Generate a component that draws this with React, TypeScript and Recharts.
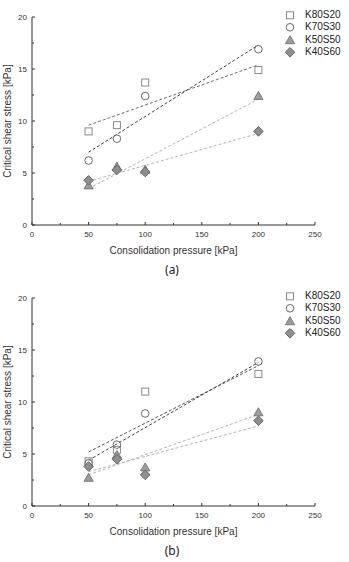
import React from 'react';
import { ScatterChart, Scatter, XAxis, YAxis, Legend } from 'recharts';

// Consolidation pressures tested [kPa]
const PRESSURE = [50, 75, 100, 200];
// Pressures where the linear trend lines start and end
const FIT_PRESSURE = [50, 200];

const SERIES_NAMES = ['K80S20', 'K70S30', 'K50S50', 'K40S60'];

const X_TICKS = [0, 25, 50, 75, 100, 125, 150, 175, 200, 225, 250];
const Y_TICKS = [0, 2.5, 5, 7.5, 10, 12.5, 15, 17.5, 20];

// Panel (a): critical shear stress [kPa]
const A_K80S20 = [9.0, 9.6, 13.7, 14.9];
const A_K70S30 = [6.2, 8.3, 12.4, 16.9];
const A_K50S50 = [3.8, 5.6, 5.3, 12.4];
const A_K40S60 = [4.3, 5.3, 5.1, 9.0];
// Panel (a): trend line values at 50 and 200 kPa
const A_FIT_K80S20 = [9.6, 15.4];
const A_FIT_K70S30 = [7.0, 17.3];
const A_FIT_K50S50 = [3.5, 12.1];
const A_FIT_K40S60 = [4.2, 8.8];

// Panel (b): critical shear stress [kPa]
const B_K80S20 = [4.3, 5.4, 11.0, 12.7];
const B_K70S30 = [4.1, 5.9, 8.9, 13.9];
const B_K50S50 = [2.7, 4.9, 3.7, 9.0];
const B_K40S60 = [3.8, 4.5, 3.0, 8.2];
// Panel (b): trend line values at 50 and 200 kPa
const B_FIT_K80S20 = [5.2, 13.5];
const B_FIT_K70S30 = [4.4, 13.8];
const B_FIT_K50S50 = [3.0, 8.8];
const B_FIT_K40S60 = [3.3, 7.7];

const FONT = '"Liberation Sans", Arial, Helvetica, sans-serif';
const AXIS_COLOR = '#333';
const TEXT_COLOR = '#333';

const toPoints = (xs: number[], ys: number[]) => xs.map((x, i) => ({ x, y: ys[i] }));

type MarkProps = { cx?: number; cy?: number };

const SquareMark = ({ cx = 0, cy = 0 }: MarkProps) => (
  <rect x={cx - 3.5} y={cy - 3.5} width={7} height={7} fill="none" stroke="#8a8a8a" strokeWidth={1} />
);
const CircleMark = ({ cx = 0, cy = 0 }: MarkProps) => (
  <circle cx={cx} cy={cy} r={3.8} fill="none" stroke="#6a6a6a" strokeWidth={1} />
);
const TriangleMark = ({ cx = 0, cy = 0 }: MarkProps) => (
  <path
    d={`M${cx},${cy - 4.6}L${cx + 4.6},${cy + 3.4}L${cx - 4.6},${cy + 3.4}Z`}
    fill="#9c9c9c"
    stroke="#7c7c7c"
    strokeWidth={1}
  />
);
const DiamondMark = ({ cx = 0, cy = 0 }: MarkProps) => (
  <path
    d={`M${cx},${cy - 4.8}L${cx + 4.8},${cy}L${cx},${cy + 4.8}L${cx - 4.8},${cy}Z`}
    fill="#8e8e8e"
    stroke="#666"
    strokeWidth={1}
  />
);
const NoMark = () => <g />;

const MARKS = [SquareMark, CircleMark, TriangleMark, DiamondMark];

const XTick = (props: any) => {
  const { x, y, payload } = props;
  const v = payload.value as number;
  const major = v % 50 === 0;
  return (
    <g>
      <line x1={x} y1={y} x2={x} y2={y - (major ? 3 : 2)} stroke={AXIS_COLOR} strokeWidth={1} />
      {major && (
        <text x={x} y={y + 11.5} textAnchor="middle" fontSize={8} fontFamily={FONT} fill={TEXT_COLOR}>
          {v}
        </text>
      )}
    </g>
  );
};

const YTick = (props: any) => {
  const { x, y, payload } = props;
  const v = payload.value as number;
  const major = v % 5 === 0;
  return (
    <g>
      <line x1={x} y1={y} x2={x + (major ? 3 : 2)} y2={y} stroke={AXIS_COLOR} strokeWidth={1} />
      {major && (
        <text x={x - 5} y={y + 3} textAnchor="end" fontSize={8} fontFamily={FONT} fill={TEXT_COLOR}>
          {v}
        </text>
      )}
    </g>
  );
};

const XTitle = (props: any) => {
  const vb = props.viewBox || { x: 32, y: 224.7, width: 283, height: 30 };
  const cx = vb.x + vb.width / 2;
  return (
    <text x={cx} y={vb.y + 28.5} textAnchor="middle" fontSize={10} fontFamily={FONT} fill={TEXT_COLOR}>
      Consolidation pressure [kPa]
    </text>
  );
};

const YTitle = (props: any) => {
  const vb = props.viewBox || { x: 1, y: 17, width: 31, height: 208 };
  const cx = 7.5;
  const cy = vb.y + vb.height / 2;
  return (
    <text
      x={cx}
      y={cy}
      transform={`rotate(-90 ${cx} ${cy})`}
      textAnchor="middle"
      dominantBaseline="central"
      fontSize={10}
      fontFamily={FONT}
      fill={TEXT_COLOR}
    >
      Critical shear stress [kPa]
    </text>
  );
};

const LegendBox = () => (
  <div style={{ position: 'relative', width: 66, height: 52, fontFamily: FONT, fontSize: 10, color: '#222' }}>
    {SERIES_NAMES.map((name, i) => {
      const Mark = MARKS[i];
      return (
        <div key={name} style={{ position: 'absolute', left: 0, top: i * 12.6, height: 12.6, width: 66 }}>
          <svg width={12} height={12.6} style={{ position: 'absolute', left: 1, top: 0 }}>
            <Mark cx={6} cy={6.3} />
          </svg>
          <span style={{ position: 'absolute', left: 22, top: 0, lineHeight: '12.6px', whiteSpace: 'nowrap' }}>
            {name}
          </span>
        </div>
      );
    })}
  </div>
);

type PanelProps = {
  top: number;
  caption: string;
  values: number[][];
  fits: number[][];
  fitColors: string[];
};

const Panel = ({ top, caption, values, fits, fitColors }: PanelProps) => (
  <div style={{ position: 'absolute', left: 0, top, width: 349, height: 281 }}>
    <ScatterChart width={349} height={281} margin={{ top: 17, right: 34, bottom: 26, left: 1 }}>
      <XAxis
        type="number"
        dataKey="x"
        domain={[0, 250]}
        ticks={X_TICKS}
        interval={0}
        height={30}
        tickSize={0}
        tickMargin={0}
        tickLine={false}
        tick={XTick}
        axisLine={{ stroke: AXIS_COLOR, strokeWidth: 1 }}
        allowDataOverflow
        label={{ content: XTitle }}
      />
      <YAxis
        type="number"
        dataKey="y"
        domain={[0, 20]}
        ticks={Y_TICKS}
        interval={0}
        width={31}
        tickSize={0}
        tickMargin={0}
        tickLine={false}
        tick={YTick}
        axisLine={{ stroke: AXIS_COLOR, strokeWidth: 1 }}
        allowDataOverflow
        label={{ content: YTitle }}
      />
      <Legend
        layout="vertical"
        align="center"
        verticalAlign="middle"
        wrapperStyle={{ left: 283, top: 8.7, width: 66, height: 52 }}
        content={() => <LegendBox />}
      />
      {fits.map((f, i) => (
        <Scatter
          key={`fit-${i}`}
          data={toPoints(FIT_PRESSURE, f)}
          shape={NoMark}
          line={{ stroke: fitColors[i], strokeWidth: 1, strokeDasharray: '3 2' }}
          legendType="none"
          isAnimationActive={false}
        />
      ))}
      {values.map((v, i) => (
        <Scatter
          key={SERIES_NAMES[i]}
          name={SERIES_NAMES[i]}
          data={toPoints(PRESSURE, v)}
          shape={MARKS[i]}
          isAnimationActive={false}
        />
      ))}
    </ScatterChart>
    <div
      style={{
        position: 'absolute',
        left: 0,
        width: 344,
        top: 262,
        textAlign: 'center',
        fontFamily: '"Noto Sans", "Open Sans", sans-serif',
        fontSize: 12,
        lineHeight: '16px',
        color: '#222',
      }}
    >
      {caption}
    </div>
  </div>
);

export default function App() {
  return (
    <div style={{ position: 'absolute', left: 0, top: 0, width: 349, height: 562, background: '#fff' }}>
      <Panel
        top={0}
        caption="(a)"
        values={[A_K80S20, A_K70S30, A_K50S50, A_K40S60]}
        fits={[A_FIT_K80S20, A_FIT_K70S30, A_FIT_K50S50, A_FIT_K40S60]}
        fitColors={['#6e6e6e', '#444', '#b4b4b4', '#b4b4b4']}
      />
      <Panel
        top={281}
        caption="(b)"
        values={[B_K80S20, B_K70S30, B_K50S50, B_K40S60]}
        fits={[B_FIT_K80S20, B_FIT_K70S30, B_FIT_K50S50, B_FIT_K40S60]}
        fitColors={['#555', '#444', '#b4b4b4', '#b4b4b4']}
      />
    </div>
  );
}
